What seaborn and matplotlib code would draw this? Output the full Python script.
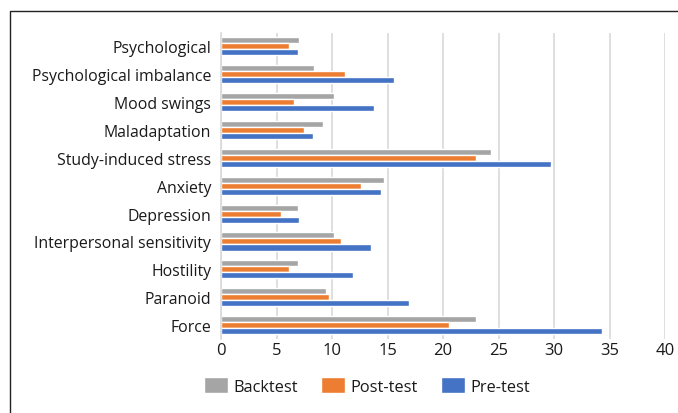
import matplotlib
matplotlib.use("Agg")
import matplotlib.pyplot as plt
import seaborn as sns
import pandas as pd
from matplotlib.lines import Line2D

categories = ["Psychological", "Psychological imbalance", "Mood swings", "Maladaptation",
              "Study-induced stress", "Anxiety", "Depression", "Interpersonal sensitivity",
              "Hostility", "Paranoid", "Force"]
backtest = [7.0, 8.4, 10.2, 9.2, 24.3, 14.7, 6.9, 10.2, 6.9, 9.5, 23.0]
post_test = [6.1, 11.2, 6.6, 7.5, 23.0, 12.6, 5.4, 10.8, 6.1, 9.7, 20.5]
pre_test = [6.9, 15.6, 13.8, 8.25, 29.7, 14.4, 7.0, 13.5, 11.9, 16.9, 34.35]
series = ["Backtest", "Post-test", "Pre-test"]
colors = ["#A5A5A5", "#ED7D31", "#4472C4"]
xticks = [0, 5, 10, 15, 20, 25, 30, 35, 40]

rows = []
for name, vals in zip(series, [backtest, post_test, pre_test]):
    for c, v in zip(categories, vals):
        rows.append({"Category": c, "Series": name, "Value": v})
df = pd.DataFrame(rows)

sns.set_style("white")
plt.rcParams["font.family"] = ["Open Sans", "DejaVu Sans"]

fig = plt.figure(figsize=(6.78, 4.14), dpi=100)
ax = fig.add_axes([221/678, 1-340/414, (665-221)/678, (340-33.5)/414])

sns.barplot(data=df, y="Category", x="Value", hue="Series", order=categories,
            hue_order=series, palette=colors, orient="h", width=0.65,
            saturation=1, ax=ax, legend=True)

ax.set_xlim(0, 40)
ax.set_xticks(xticks)
ax.set_xticklabels([str(t) for t in xticks], fontsize=12, color="#1a1a1a")
ax.tick_params(axis="y", labelsize=11.4, labelcolor="#1a1a1a", length=0, pad=7)
ax.tick_params(axis="x", length=0, pad=2)
ax.set_xlabel("")
ax.set_ylabel("")
ax.grid(axis="x", color="#D9D9D9", linewidth=1.2)
ax.set_axisbelow(True)
for s in ["top", "right", "bottom"]:
    ax.spines[s].set_visible(False)
ax.spines["left"].set_color("#D9D9D9")
ax.spines["left"].set_linewidth(1.2)

handles, labels = ax.get_legend_handles_labels()
ax.get_legend().remove()
fig.legend(handles, labels, loc="center", bbox_to_anchor=(367/678, 1-387/414),
           ncol=3, frameon=False, fontsize=11.8, handlelength=1.45, handleheight=1.15,
           columnspacing=1.45, handletextpad=0.3, labelcolor="#1a1a1a")

x0 = 10/678
y0 = 1-12/414
fig.add_artist(Line2D([x0, x0, 1.0], [0.0, y0, y0], transform=fig.transFigure,
                      color="#222222", linewidth=1.0))

fig.savefig("out.png", dpi=100)
